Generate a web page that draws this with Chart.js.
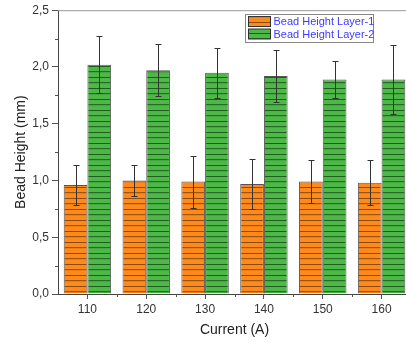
<!DOCTYPE html>
<html>
<head>
<meta charset="utf-8">
<script src="https://cdn.jsdelivr.net/npm/chart.js@4"></script>
<style>
  html, body { margin: 0; padding: 0; background: #fff; overflow: hidden; }
  #wrap { width: 416px; height: 343px; }
</style>
</head>
<body>
<div id="wrap"><canvas id="c" width="416" height="343"></canvas></div>
<script>
// Data
const currents = ['110', '120', '130', '140', '150', '160'];
const layer1 = [0.96, 1.00, 0.99, 0.97, 0.99, 0.98];
const layer1Err = [0.18, 0.14, 0.23, 0.22, 0.19, 0.20];
const layer2 = [2.02, 1.97, 1.95, 1.92, 1.89, 1.89];
const layer2Err = [0.25, 0.23, 0.22, 0.23, 0.16, 0.30];
const yTicks = [0, 0.5, 1.0, 1.5, 2.0, 2.5];

const ORANGE = '#ff8a1c', ORANGE_LINE = '#8c4a0c';
const GREEN = '#4db848', GREEN_LINE = '#1f5f1d';

function stripes(fill, line) {
  const p = document.createElement('canvas');
  p.width = 8; p.height = 11;
  const g = p.getContext('2d');
  g.fillStyle = fill; g.fillRect(0, 0, 8, 11);
  g.fillStyle = line;
  g.fillRect(0, 0, 8, 1);
  g.globalAlpha = 0.85;
  g.fillRect(0, 5, 8, 1.2);
  return document.getElementById('c').getContext('2d').createPattern(p, 'repeat');
}

const fmt = (v) => v.toFixed(1).replace('.', ',');

// error bars, minor ticks, frame line, legend
const extras = {
  id: 'extras',
  afterDatasetsDraw(chart) {
    const { ctx, chartArea: a, scales: { x, y } } = chart;
    ctx.save();
    ctx.strokeStyle = '#333';
    ctx.lineWidth = 1;
    [layer1Err, layer2Err].forEach((errs, di) => {
      chart.getDatasetMeta(di).data.forEach((bar, i) => {
        const v = chart.data.datasets[di].data[i];
        const px = Math.round(bar.x) + 0.5;
        const t = Math.round(y.getPixelForValue(v + errs[i])) + 0.5;
        const b = Math.round(y.getPixelForValue(v - errs[i])) + 0.5;
        ctx.beginPath();
        ctx.moveTo(px, t); ctx.lineTo(px, b);
        ctx.moveTo(px - 3, t); ctx.lineTo(px + 3, t);
        ctx.moveTo(px - 3, b); ctx.lineTo(px + 3, b);
        ctx.stroke();
      });
    });
    // top frame
    ctx.strokeStyle = '#999';
    ctx.beginPath();
    ctx.moveTo(a.left, a.top + 0.5); ctx.lineTo(a.right + 5, a.top + 0.5);
    ctx.stroke();
    // minor ticks
    ctx.strokeStyle = '#555';
    ctx.beginPath();
    for (let k = 0; k < yTicks.length - 1; k++) {
      const py = Math.round(y.getPixelForValue((yTicks[k] + yTicks[k + 1]) / 2)) + 0.5;
      ctx.moveTo(a.left - 3, py); ctx.lineTo(a.left, py);
    }
    for (let i = 0; i < currents.length - 1; i++) {
      const px = Math.round((x.getPixelForValue(i) + x.getPixelForValue(i + 1)) / 2) + 0.5;
      ctx.moveTo(px, a.bottom); ctx.lineTo(px, a.bottom + 3);
    }
    ctx.stroke();
    // legend box
    const lx = 245.5, ly = 14.5, lw = 128, lh = 28;
    ctx.fillStyle = '#fff';
    ctx.fillRect(lx, ly, lw, lh);
    ctx.strokeStyle = '#888';
    ctx.strokeRect(lx, ly, lw, lh);
    ctx.font = '11px "Liberation Sans", Arial, sans-serif';
    ctx.textBaseline = 'middle';
    chart.data.datasets.forEach((ds, i) => {
      const ry = ly + 2 + i * 12.5;
      ctx.fillStyle = ds.backgroundColor;
      ctx.fillRect(lx + 3, ry, 22, 10);
      ctx.strokeStyle = '#333';
      ctx.strokeRect(lx + 3, ry, 22, 10);
      ctx.fillStyle = '#3b3bff';
      ctx.fillText(ds.label, lx + 28, ry + 5.5);
    });
    ctx.restore();
  }
};

new Chart(document.getElementById('c'), {
  type: 'bar',
  data: {
    labels: currents,
    datasets: [
      {
        label: 'Bead Height Layer-1',
        data: layer1,
        backgroundColor: stripes(ORANGE, ORANGE_LINE),
        borderColor: '#555',
        borderWidth: 1,
      },
      {
        label: 'Bead Height Layer-2',
        data: layer2,
        backgroundColor: stripes(GREEN, GREEN_LINE),
        borderColor: '#555',
        borderWidth: 1,
      },
    ],
  },
  options: {
    responsive: false,
    animation: false,
    layout: { padding: { top: 10, right: 5, left: 0, bottom: 0 } },
    categoryPercentage: 0.806,
    barPercentage: 1.0,
    plugins: { legend: { display: false }, tooltip: { enabled: false } },
    scales: {
      x: {
        grid: { display: true, drawOnChartArea: false, offset: false, tickLength: 5, color: '#555' },
        border: { color: '#444', width: 1 },
        ticks: { color: '#333', font: { family: '"Liberation Sans", Arial', size: 12 }, padding: 3 },
        title: { display: true, text: 'Current (A)', color: '#222', font: { family: '"Liberation Sans", Arial', size: 14 }, padding: { top: 7 } },
        afterFit: (s) => { s.height = 49; },
      },
      y: {
        min: 0, max: 2.5,
        afterBuildTicks: (s) => { s.ticks = yTicks.map((v) => ({ value: v })); },
        grid: { display: true, drawOnChartArea: false, tickLength: 6, color: '#555' },
        border: { color: '#444', width: 1 },
        ticks: { color: '#333', font: { family: '"Liberation Sans", Arial', size: 12 }, padding: 3, callback: (v) => fmt(v) },
        title: { display: true, text: 'Bead Height (mm)', color: '#222', font: { family: '"Liberation Sans", Arial', size: 14 }, padding: { top: 13, bottom: 4 } },
        afterFit: (s) => { s.width = 58; },
      },
    },
  },
  plugins: [extras],
});
</script>
</body>
</html>
